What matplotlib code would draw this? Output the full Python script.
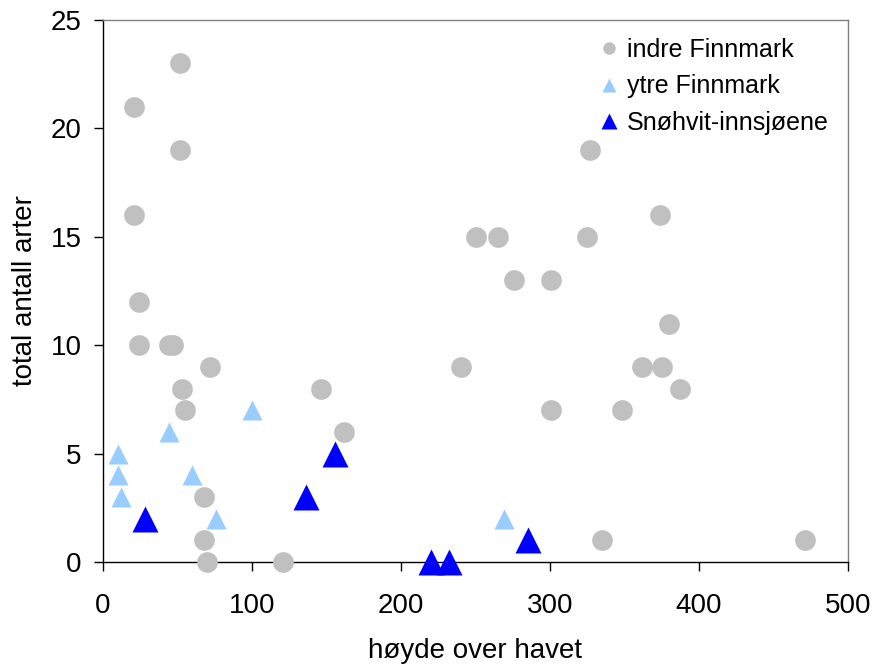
import matplotlib
matplotlib.use("Agg")
import matplotlib.pyplot as plt
from matplotlib.lines import Line2D

plt.rcParams['font.family'] = ['Liberation Sans', 'DejaVu Sans']

# indre Finnmark (grey circles)
indre_x = [52, 21, 52, 21, 24, 24, 44, 47, 72, 53, 55, 146, 162, 68, 68, 70, 121,
           327, 374, 250, 265, 325, 276, 301, 380, 240, 362, 375, 387, 301, 348, 335, 471]
indre_y = [23, 21, 19, 16, 12, 10, 10, 10, 9, 8, 7, 8, 6, 3, 1, 0, 0,
           19, 16, 15, 15, 15, 13, 13, 11, 9, 9, 9, 8, 7, 7, 1, 1]

# ytre Finnmark (light blue triangles)
ytre_x = [100, 44, 10, 10, 60, 12, 76, 269]
ytre_y = [7, 6, 5, 4, 4, 3, 2, 2]

# Snøhvit-innsjøene (blue triangles)
snoh_x = [28, 136, 156, 285, 220, 232]
snoh_y = [2, 3, 5, 1, 0, 0]

labels = ['indre Finnmark', 'ytre Finnmark', 'Snøhvit-innsjøene']
colors = ['#C0C0C0', '#99CCFF', '#0000FF']

fig = plt.figure(figsize=(8.73, 6.66), dpi=100)
ax = fig.add_axes([103/873, 1 - 562/666, 745/873, 542/666])

ax.plot(indre_x, indre_y, 'o', ms=14.9, color=colors[0], mec='none', clip_on=False, zorder=5)
ax.plot(ytre_x, ytre_y, '^', ms=14.4, color=colors[1], mec='none', clip_on=False, zorder=6)
ax.plot(snoh_x, snoh_y, '^', ms=19.2, color=colors[2], mec='none', clip_on=False, zorder=7)

ax.set_xlim(0, 500)
ax.set_ylim(0, 25)
ax.set_xticks([0, 100, 200, 300, 400, 500])
ax.set_yticks([0, 5, 10, 15, 20, 25])

for s in ['left', 'bottom']:
    ax.spines[s].set_color('black')
    ax.spines[s].set_linewidth(1.0)
for s in ['top', 'right']:
    ax.spines[s].set_color('#808080')
    ax.spines[s].set_linewidth(1.0)

ax.tick_params(axis='both', direction='out', length=6.5, width=1, labelsize=20, color='black')
ax.tick_params(axis='x', pad=15.5)
ax.tick_params(axis='y', pad=9)

ax.set_xlabel('høyde over havet', fontsize=20, labelpad=14)
ax.set_ylabel('total antall arter', fontsize=20, labelpad=9)

handles = [
    Line2D([], [], ls='none', marker='o', ms=9, color=colors[0], mec='none'),
    Line2D([], [], ls='none', marker='^', ms=9.5, color=colors[1], mec='none'),
    Line2D([], [], ls='none', marker='^', ms=12, color=colors[2], mec='none'),
]
ax.legend(handles, labels, loc='upper left', bbox_to_anchor=(0.653, 0.985),
          frameon=False, fontsize=18, handlelength=0.8, handletextpad=0.3,
          labelspacing=0.49, borderaxespad=0, borderpad=0.4)

fig.savefig('out.png', dpi=100)
